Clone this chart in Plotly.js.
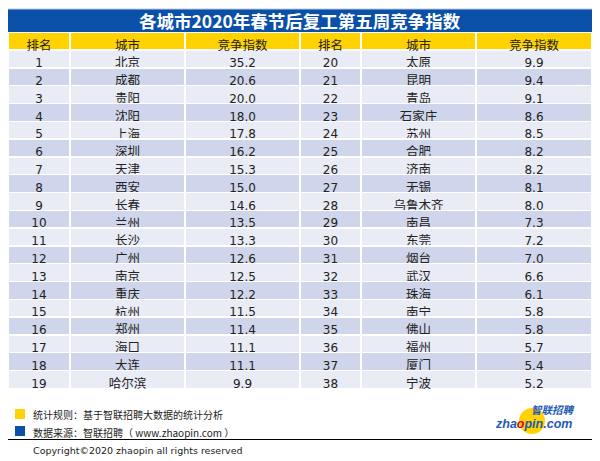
<!DOCTYPE html>
<html>
<head>
<meta charset="utf-8">
<script src="https://cdn.plot.ly/plotly-3.0.1.min.js"></script>
<style>html,body{margin:0;padding:0;background:#fff;}#chart{width:600px;height:461px;}</style>
</head>
<body>
<div id="chart"></div>
<script>
const titleText = '各城市2020年春节后复工第五周竞争指数';
const headers = ['排名', '城市', '竞争指数', '排名', '城市', '竞争指数'];
const rankA = [1, 2, 3, 4, 5, 6, 7, 8, 9, 10, 11, 12, 13, 14, 15, 16, 17, 18, 19];
const cityA = ['北京', '成都', '贵阳', '沈阳', '上海', '深圳', '天津', '西安', '长春', '兰州', '长沙', '广州', '南京', '重庆', '杭州', '郑州', '海口', '大连', '哈尔滨'];
const valueA = [35.2, 20.6, 20.0, 18.0, 17.8, 16.2, 15.3, 15.0, 14.6, 13.5, 13.3, 12.6, 12.5, 12.2, 11.5, 11.4, 11.1, 11.1, 9.9];
const rankB = [20, 21, 22, 23, 24, 25, 26, 27, 28, 29, 30, 31, 32, 33, 34, 35, 36, 37, 38];
const cityB = ['太原', '昆明', '青岛', '石家庄', '苏州', '合肥', '济南', '无锡', '乌鲁木齐', '南昌', '东莞', '烟台', '武汉', '珠海', '南宁', '佛山', '福州', '厦门', '宁波'];
const valueB = [9.9, 9.4, 9.1, 8.6, 8.5, 8.2, 8.2, 8.1, 8.0, 7.3, 7.2, 7.0, 6.6, 6.1, 5.8, 5.8, 5.7, 5.4, 5.2];
const noteRule = '统计规则：基于智联招聘大数据的统计分析';
const noteSource = '数据来源：智联招聘（ www.zhaopin.com ）';
const copyright = 'Copyright©2020 zhaopin all rights reserved';

const W = 600, H = 461;
const px = x => x / W;
const py = y => 1 - y / H;

const CJK = 'Noto Sans CJK SC, sans-serif';
const NUM = 'DejaVu Sans, Noto Sans CJK SC, sans-serif';

const rowColors = rankA.map((_, i) => i % 2 === 0 ? '#E9EBF5' : '#CFD5EA');
const fmt = v => v.toFixed(1);

const table = {
  type: 'table',
  domain: {x: [px(8), px(592)], y: [0, py(32.5)]},
  columnwidth: [62, 115, 115, 61, 115, 116],
  header: {
    values: headers,
    align: 'center',
    height: 17.6,
    fill: {color: '#FFD200'},
    line: {color: '#FFFFFF', width: 1.5},
    font: {family: CJK, size: 12.5, color: '#222222'}
  },
  cells: {
    values: [rankA, cityA, valueA.map(fmt), rankB, cityB, valueB.map(fmt)],
    align: 'center',
    height: 17.8,
    fill: {color: [rowColors, rowColors, rowColors, rowColors, rowColors, rowColors]},
    line: {color: '#FFFFFF', width: 1.5},
    font: {family: [NUM, CJK, NUM, NUM, CJK, NUM], size: [12, 12.5, 12, 12, 12.5, 12], color: '#222222'}
  }
};

const shapes = [
  {type: 'rect', xref: 'paper', yref: 'paper', x0: px(8), x1: px(592), y0: py(32), y1: py(9),
   fillcolor: '#0A50A8', line: {width: 0}},
  {type: 'line', xref: 'paper', yref: 'paper', x0: px(8), x1: px(592), y0: py(9), y1: py(9),
   line: {color: '#B8CCE6', width: 1}},
  {type: 'rect', xref: 'paper', yref: 'paper', x0: px(15), x1: px(25), y0: py(419), y1: py(409),
   fillcolor: '#FFD200', line: {width: 0}},
  {type: 'rect', xref: 'paper', yref: 'paper', x0: px(15), x1: px(25), y0: py(436), y1: py(426),
   fillcolor: '#0A50A8', line: {width: 0}},
  {type: 'line', xref: 'paper', yref: 'paper', x0: px(8), x1: px(592), y0: py(439.5), y1: py(439.5),
   line: {color: '#000000', width: 1.2}},
  {type: 'circle', xref: 'paper', yref: 'paper', x0: px(519), x1: px(545), y0: py(434), y1: py(408),
   fillcolor: '#FFD200', line: {width: 0}}
];

const annotations = [
  {text: '<b>' + titleText + '</b>', xref: 'paper', yref: 'paper', x: 0.5, y: py(20.5),
   xanchor: 'center', yanchor: 'middle', showarrow: false,
   font: {family: CJK, size: 17.5, color: '#FFFFFF'}},
  {text: noteRule, xref: 'paper', yref: 'paper', x: px(31), y: py(414.5),
   xanchor: 'left', yanchor: 'middle', showarrow: false,
   font: {family: CJK, size: 10, color: '#222222'}},
  {text: noteSource, xref: 'paper', yref: 'paper', x: px(31), y: py(432),
   xanchor: 'left', yanchor: 'middle', showarrow: false,
   font: {family: CJK, size: 10, color: '#222222'}},
  {text: copyright, xref: 'paper', yref: 'paper', x: px(31), y: py(450),
   xanchor: 'left', yanchor: 'middle', showarrow: false,
   font: {family: NUM, size: 9.5, color: '#222222'}},
  {text: '<b><i>智联招聘</i></b>', xref: 'paper', yref: 'paper', x: px(576), y: py(409),
   xanchor: 'right', yanchor: 'middle', showarrow: false, borderpad: 0,
   font: {family: CJK, size: 10.5, color: '#1F5BB5'}},
  {text: '<b><i>zha<span style="color:#E60012">o</span>pin.com</i></b>', xref: 'paper', yref: 'paper', x: px(573), y: py(424),
   xanchor: 'right', yanchor: 'middle', showarrow: false, borderpad: 0,
   font: {family: 'Liberation Sans, Arial, sans-serif', size: 12.5, color: '#1F5BB5'}}
];

const layout = {
  width: W, height: H,
  margin: {l: 0, r: 0, t: 0, b: 0},
  paper_bgcolor: '#FFFFFF',
  showlegend: false,
  shapes: shapes,
  annotations: annotations
};

Plotly.newPlot('chart', [table], layout, {displayModeBar: false, staticPlot: true});
</script>
</body>
</html>
